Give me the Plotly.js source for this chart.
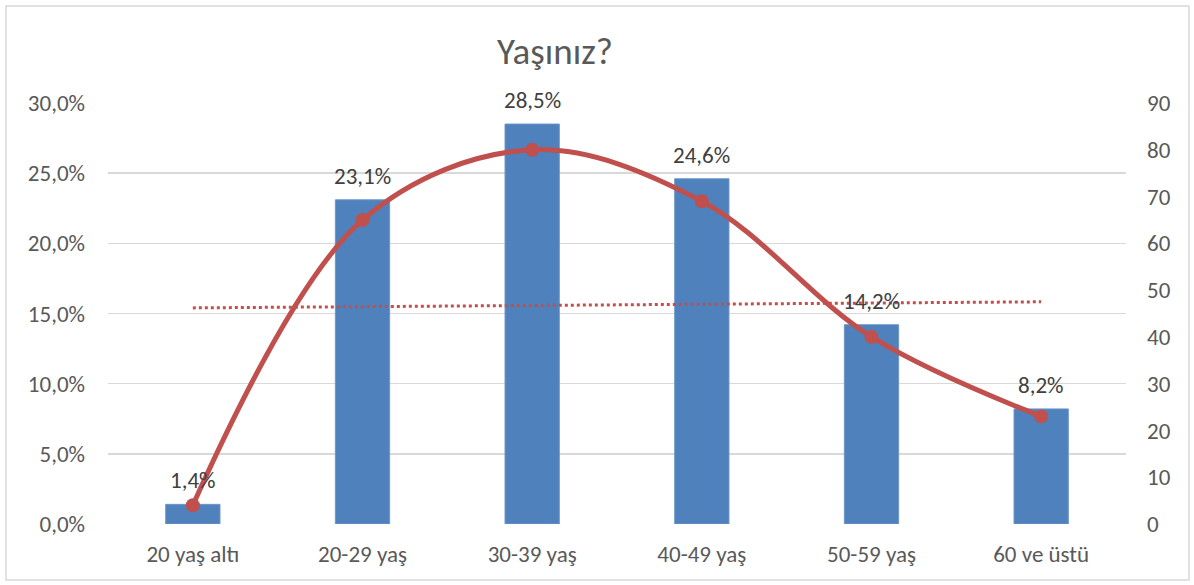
<!DOCTYPE html>
<html>
<head>
<meta charset="utf-8">
<script src="https://cdn.plot.ly/plotly-3.0.1.min.js"></script>
<style>body{margin:0;background:#fff}#chart{width:1194px;height:585px}</style>
</head>
<body>
<div id="chart"></div>
<script>
const categories = ["20 yaş altı", "20-29 yaş", "30-39 yaş", "40-49 yaş", "50-59 yaş", "60 ve üstü"];
const percentages = [0.014, 0.231, 0.285, 0.246, 0.142, 0.082];
const counts = [4, 65, 80, 69, 40, 23];
const trendX = ["20 yaş altı", "60 ve üstü"];
const trendValues = [46.2, 47.5];
const leftTicks = [0, 0.05, 0.10, 0.15, 0.20, 0.25, 0.30];
const rightTicks = [0, 10, 20, 30, 40, 50, 60, 70, 80, 90];

const font = "Carlito, Calibri, 'Open Sans', 'Noto Sans', sans-serif";
const W = 1194, H = 585, mL = 108, mR = 68, mT = 103, mB = 61;
const pw = W - mL - mR, ph = H - mT - mB;
const px = v => (v - mL) / pw;
const py = v => (H - mB - v) / ph;

const traces = [
  {
    type: "bar", x: categories, y: percentages, yaxis: "y",
    marker: {color: "#4F81BD", line: {color: "#6D95C8", width: 1}},
    hoverinfo: "skip"
  },
  {
    type: "scatter", mode: "lines", x: trendX, y: trendValues, yaxis: "y2",
    line: {color: "#C0504D", width: 3, dash: "dot"}, hoverinfo: "skip"
  },
  {
    type: "scatter", mode: "lines+markers", x: categories, y: counts, yaxis: "y2",
    line: {color: "#C0504D", width: 5, shape: "spline", smoothing: 1},
    marker: {color: "#C0504D", size: 14}, cliponaxis: false, hoverinfo: "skip"
  }
];

const labels = categories.map((c, i) => ({
  x: c, y: percentages[i], xref: "x", yref: "y",
  text: (percentages[i] * 100).toFixed(1).replace(".", ",") + "%",
  showarrow: false, yanchor: "middle", yshift: 24,
  font: {family: font, size: 23, color: "#404040"}
}));

const layout = {
  width: W, height: H,
  margin: {l: mL, r: mR, t: mT, b: mB},
  paper_bgcolor: "#fff", plot_bgcolor: "#fff",
  separators: ",.",
  showlegend: false,
  bargap: 0.68,
  font: {family: font, color: "#595959", size: 23},
  title: {text: "Yaşınız?", font: {family: font, size: 37, color: "#595959"},
          x: px(555), xref: "paper", xanchor: "center", y: py(67), yref: "paper", yanchor: "middle"},
  xaxis: {
    type: "category", showgrid: false, zeroline: false,
    showline: false, ticks: "", tickfont: {family: font, size: 23, color: "#595959"},
    ticklabelstandoff: 14
  },
  yaxis: {
    range: [0, 0.30], tickvals: leftTicks, tickformat: ".1%",
    showgrid: true, gridcolor: "#D9D9D9", gridwidth: 1.5, zeroline: false,
    showline: false, ticks: "", ticklabelstandoff: 22,
    tickfont: {family: font, size: 23, color: "#595959"}
  },
  yaxis2: {
    range: [0, 90], tickvals: rightTicks, overlaying: "y", side: "right",
    showgrid: false, zeroline: false, showline: false, ticks: "",
    ticklabelstandoff: 20,
    tickfont: {family: font, size: 23, color: "#595959"}
  },
  annotations: labels,
  shapes: [{
    type: "rect", xref: "paper", yref: "paper",
    x0: px(6), x1: px(1189), y0: py(580), y1: py(6),
    line: {color: "#D9D9D9", width: 1.5}, fillcolor: "rgba(0,0,0,0)", layer: "below"
  }]
};

Plotly.newPlot("chart", traces, layout, {displayModeBar: false, staticPlot: true});
</script>
</body>
</html>
